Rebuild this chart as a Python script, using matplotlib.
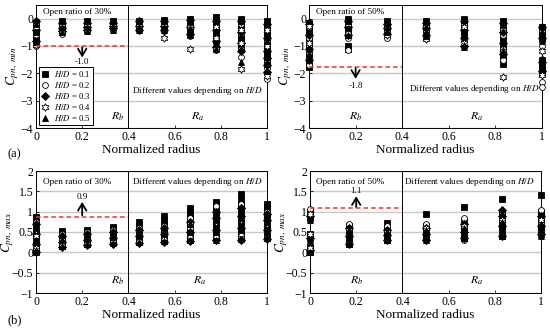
import numpy as np
import matplotlib
matplotlib.use("Agg")
import matplotlib.pyplot as plt
from matplotlib.path import Path

plt.rcParams['font.family'] = ['Liberation Serif', 'DejaVu Serif']
plt.rcParams['mathtext.fontset'] = 'stix'

# ---------------- data ----------------
hd_labels = ['0.1', '0.2', '0.3', '0.4', '0.5']
radius_30 = [0.0, 0.111, 0.222, 0.333, 0.444, 0.556, 0.667, 0.778, 0.889, 1.0]
radius_50 = [0.0, 0.167, 0.333, 0.5, 0.667, 0.833, 1.0]

# Cpn,min  open ratio 30%
cmin30_hd01 = [[-0.15, -0.3, -0.45, -0.6, -0.7], [-0.1, -0.2, -0.3, -0.4], [-0.1, -0.2, -0.3, -0.35],
               [-0.1, -0.2, -0.3], [-0.1, -0.2, -0.3], [-0.05, -0.15, -0.25, -0.3],
               [0.0, -0.1, -0.2, -0.35, -0.5], [0.05, -0.05, -0.15, -0.3, -0.4, -0.5, -0.7],
               [0.0, -0.1, -0.2, -0.3, -0.4, -0.55, -0.7, -0.85, -1.0],
               [-0.1, -0.25, -0.4, -0.5, -0.65, -0.8, -0.9, -1.0, -1.1, -1.2, -1.3, -1.45, -1.6]]
cmin30_hd02 = [[-0.2, -0.6, -0.9, -1.0], [-0.2, -0.4, -0.55], [-0.2, -0.35, -0.45], [-0.15, -0.3, -0.4],
               [-0.15, -0.3, -0.4], [-0.1, -0.3, -0.45], [-0.1, -0.4, -0.65],
               [-0.2, -0.5, -0.9, -1.15], [-0.2, -0.6, -1.1, -1.4],
               [-0.3, -0.8, -1.5, -1.8, -2.0, -2.2]]
cmin30_hd03 = [[-0.1, -0.4, -0.8], [-0.15, -0.35, -0.45], [-0.15, -0.3, -0.4], [-0.15, -0.25, -0.35],
               [-0.1, -0.25, -0.4], [-0.1, -0.25, -0.4], [-0.05, -0.3, -0.55],
               [-0.1, -0.4, -0.8, -1.05], [-0.1, -0.5, -0.9, -1.2],
               [-0.2, -0.7, -1.2, -1.45, -1.7, -1.95]]
cmin30_hd04 = [[-0.3, -0.6, -0.95], [-0.2, -0.45], [-0.2, -0.4], [-0.2, -0.35],
               [-0.2, -0.35], [-0.2, -0.7], [-0.3, -1.1],
               [-0.3, -0.7, -1.1], [-0.4, -0.9, -1.85],
               [-0.4, -1.0, -2.1]]
cmin30_hd05 = [[-0.2, -0.5, -0.85], [-0.1, -0.3, -0.5], [-0.1, -0.3, -0.45], [-0.1, -0.25, -0.4],
               [-0.1, -0.3, -0.4], [-0.1, -0.3, -0.4], [-0.1, -0.35, -0.6],
               [-0.1, -0.45, -0.9, -1.1], [-0.1, -0.6, -1.1, -1.6],
               [-0.2, -0.8, -1.4, -1.65, -1.9]]

# Cpn,min  open ratio 50%
cmin50_hd01 = [[-0.15, -0.3, -0.45, -0.6, -0.8, -1.0, -1.2, -1.4, -1.6, -1.75],
               [0.0, -0.1, -0.2, -0.3, -0.4, -0.5, -0.6, -1.0, -1.1],
               [-0.1, -0.2, -0.3, -0.45], [-0.1, -0.2, -0.3, -0.4], [0.0, -0.1, -0.2, -0.3, -0.45, -0.6],
               [-0.1, -0.2, -0.3, -0.45, -0.6, -0.8, -1.0, -1.2, -1.4, -1.65],
               [-0.3, -0.45, -0.6, -0.75, -1.5, -1.6, -1.7, -1.85, -2.0]]
cmin50_hd02 = [[-0.3, -0.7, -1.0, -1.4, -1.7], [-0.2, -0.45, -0.7, -1.15],
               [-0.15, -0.4, -0.7], [-0.2, -0.4, -0.7], [-0.2, -0.5, -0.8],
               [-0.2, -0.6, -1.1, -1.5], [-0.4, -1.0, -1.9, -2.3, -2.5]]
cmin50_hd03 = [[-0.2, -0.6, -1.1, -1.5], [-0.1, -0.3, -0.6],
               [-0.2, -0.35, -0.55], [-0.15, -0.35, -0.6], [-0.1, -0.4, -0.7, -1.0],
               [-0.15, -0.5, -0.9, -1.3], [-0.3, -0.7, -1.6, -1.9]]
cmin50_hd04 = [[-0.25, -0.9, -1.3], [-0.2, -0.5],
               [-0.3, -0.6], [-0.3, -0.75], [-0.3, -0.9],
               [-0.4, -1.2, -2.15], [-0.5, -1.2, -2.05]]
cmin50_hd05 = [[-0.1, -0.5, -1.3], [-0.1, -0.35, -0.6],
               [-0.15, -0.3, -0.5], [-0.1, -0.3, -0.65], [-0.05, -0.45, -0.95, -1.05],
               [-0.1, -0.45, -0.8, -1.2], [-0.25, -0.5, -0.8, -1.45, -1.8]]

# Cpn,max  open ratio 30%
cmax30_hd01 = [[0.0, 0.1, 0.2, 0.35, 0.5, 0.6, 0.75, 0.87], [0.15, 0.25, 0.35, 0.45, 0.52],
               [0.2, 0.3, 0.4, 0.5, 0.55], [0.25, 0.35, 0.45, 0.55, 0.63],
               [0.25, 0.35, 0.45, 0.55, 0.65, 0.75], [0.3, 0.4, 0.5, 0.6, 0.7, 0.8, 0.9],
               [0.3, 0.4, 0.55, 0.65, 0.8, 0.9, 1.0, 1.08],
               [0.35, 0.45, 0.6, 0.7, 0.9, 1.0, 1.1, 1.18, 1.25],
               [0.35, 0.45, 0.55, 0.7, 0.8, 1.0, 1.1, 1.2, 1.3, 1.43],
               [0.35, 0.45, 0.6, 0.7, 0.85, 0.95, 1.05, 1.12, 1.18]]
cmax30_hd02 = [[0.05, 0.25, 0.5, 0.75], [0.15, 0.3, 0.45], [0.2, 0.35, 0.5],
               [0.25, 0.4, 0.55], [0.25, 0.45, 0.6], [0.3, 0.5, 0.65],
               [0.35, 0.6, 0.85], [0.4, 0.8, 1.15], [0.4, 0.9, 1.2],
               [0.4, 0.75, 1.0]]
cmax30_hd03 = [[0.0, 0.2, 0.45, 0.7], [0.12, 0.25, 0.4], [0.17, 0.3, 0.45],
               [0.2, 0.35, 0.5], [0.22, 0.4, 0.55], [0.25, 0.45, 0.6],
               [0.28, 0.5, 0.75], [0.3, 0.55, 0.85, 1.0], [0.3, 0.6, 0.9, 1.1],
               [0.32, 0.55, 0.8, 0.95]]
cmax30_hd04 = [[0.1, 0.4, 0.55], [0.2, 0.35], [0.25, 0.4],
               [0.3, 0.45], [0.3, 0.5], [0.35, 0.55],
               [0.4, 0.7], [0.4, 0.75], [0.45, 0.8],
               [0.45, 0.7]]
cmax30_hd05 = [[0.05, 0.3, 0.6], [0.15, 0.3, 0.42], [0.2, 0.32, 0.45],
               [0.22, 0.38, 0.5], [0.25, 0.4, 0.55], [0.27, 0.45, 0.6],
               [0.3, 0.5, 0.7], [0.3, 0.5, 0.8], [0.32, 0.55, 0.85],
               [0.35, 0.5, 0.75]]

# Cpn,max  open ratio 50%
cmax50_hd01 = [[0.0, 0.06, 0.12, 0.35, 0.45, 0.85, 0.95, 1.0], [0.2, 0.3, 0.4, 0.5, 0.6, 0.65],
               [0.3, 0.4, 0.5, 0.6, 0.72], [0.35, 0.45, 0.55, 0.65, 0.95],
               [0.35, 0.45, 0.55, 0.65, 0.75, 1.12], [0.4, 0.5, 0.6, 0.7, 0.85, 0.95, 1.0, 1.32],
               [0.45, 0.55, 0.65, 0.75, 0.85, 0.95, 1.0, 1.42]]
cmax50_hd02 = [[0.05, 0.4, 0.9, 1.07], [0.25, 0.45, 0.7], [0.3, 0.45, 0.65],
               [0.3, 0.5, 0.7], [0.3, 0.55, 0.85], [0.4, 0.7, 1.0],
               [0.45, 0.7, 1.05]]
cmax50_hd03 = [[0.05, 0.35, 0.9], [0.2, 0.4, 0.6], [0.3, 0.42, 0.55],
               [0.3, 0.45, 0.6], [0.35, 0.5, 0.7], [0.4, 0.65, 0.9, 1.05],
               [0.45, 0.65, 0.9]]
cmax50_hd04 = [[0.1, 0.45, 0.95], [0.3, 0.55], [0.35, 0.5],
               [0.4, 0.6], [0.4, 0.65], [0.5, 0.8],
               [0.5, 0.8]]
cmax50_hd05 = [[0.0, 0.3, 0.8], [0.2, 0.35, 0.55], [0.3, 0.4, 0.5],
               [0.3, 0.45, 0.55], [0.35, 0.45, 0.6], [0.4, 0.55, 0.75],
               [0.4, 0.55, 0.7]]

envelope_min = {'30': -1.0, '50': -1.75}
envelope_max = {'30': 0.88, '50': 1.08}
envelope_label_min = {'30': '-1.0', '50': '-1.8'}
envelope_label_max = {'30': '0.9', '50': '1.1'}

# ---------------- styles ----------------
ang = np.deg2rad(90 + 30 * np.arange(12))
rad = np.where(np.arange(12) % 2 == 0, 1.0, 1 / np.sqrt(3))
hexverts = np.column_stack([rad * np.cos(ang), rad * np.sin(ang)])
hexverts = np.vstack([hexverts, hexverts[:1]])
hexagram = Path(hexverts, closed=True)

styles = [dict(marker='s', mfc='black', ms=4.0),
          dict(marker='o', mfc='white', ms=4.2),
          dict(marker='D', mfc='black', ms=3.6),
          dict(marker=hexagram, mfc='white', ms=5.4),
          dict(marker='^', mfc='black', ms=4.4)]

fig = plt.figure(figsize=(5.5, 3.29), dpi=100)
W, H = 550, 329


def make_ax(x0, x1, ytop, ybot):
    return fig.add_axes([x0 / W, 1 - ybot / H, (x1 - x0) / W, (ybot - ytop) / H])


ax_a1 = make_ax(36, 267, 5, 128)
ax_a2 = make_ax(309, 542, 5, 128)
ax_b1 = make_ax(36, 267, 171, 293)
ax_b2 = make_ax(310, 541, 171, 293)


def draw_series(ax, radius, series_list):
    for st, vals, lab in zip(styles, series_list, hd_labels):
        xs = np.concatenate([[r] * len(v) for r, v in zip(radius, vals)])
        ys = np.concatenate([np.asarray(v, float) for v in vals])
        ax.plot(xs, ys, linestyle='none', marker=st['marker'], mfc=st['mfc'],
                mec='black', mew=0.6, ms=st['ms'], label=r'$H/D$ = ' + lab,
                zorder=3, clip_on=False)


def common(ax, ylim, yticks, ylabel):
    ax.set_xlim(0, 1)
    ax.set_ylim(*ylim)
    ax.set_yticks(yticks)
    ax.set_xticks([0, 0.2, 0.4, 0.6, 0.8, 1.0])
    ax.set_xticklabels(['0', '0.2', '0.4', '0.6', '0.8', '1'])
    ax.set_yticklabels([('%g' % t).replace('-', '\u2212') for t in yticks])
    ax.yaxis.grid(True, color='#c8c8c8', lw=1.0, zorder=0)
    ax.set_axisbelow(True)
    ax.tick_params(direction='in', length=2, labelsize=8.5, pad=2, width=0.6)
    for s in ax.spines.values():
        s.set_linewidth(0.7)
        s.set_zorder(2.5)
    ax.axvline(0.4, color='black', lw=0.7, zorder=2)
    ax.set_xlabel('Normalized radius', fontsize=9.5, labelpad=1)
    ax.set_ylabel(ylabel, fontsize=9.5, labelpad=0)


draw_series(ax_a1, radius_30, [cmin30_hd01, cmin30_hd02, cmin30_hd03, cmin30_hd04, cmin30_hd05])
draw_series(ax_a2, radius_50, [cmin50_hd01, cmin50_hd02, cmin50_hd03, cmin50_hd04, cmin50_hd05])
draw_series(ax_b1, radius_30, [cmax30_hd01, cmax30_hd02, cmax30_hd03, cmax30_hd04, cmax30_hd05])
draw_series(ax_b2, radius_50, [cmax50_hd01, cmax50_hd02, cmax50_hd03, cmax50_hd04, cmax50_hd05])

ylab_min = r'$C_{pn,\ min}$'
ylab_max = r'$C_{pn,\ max}$'
for ax in (ax_a1, ax_a2):
    common(ax, (-4, 0.5), [-4, -3, -2, -1, 0], ylab_min)
for ax in (ax_b1, ax_b2):
    common(ax, (-1, 2), [-1, -0.5, 0, 0.5, 1, 1.5, 2], ylab_max)
ax_b1.yaxis.set_label_coords(-0.085, 0.5)
ax_b2.yaxis.set_label_coords(-0.085, 0.5)

txt = dict(fontsize=6.6, ha='center', va='center', zorder=6)
arrow = dict(arrowstyle='->,head_length=0.5,head_width=0.3', lw=1.3, color='black',
             shrinkA=0, shrinkB=0)
red = '#ee3333'
dash = (0, (3, 2))

# top-left
ax_a1.text(0.18, 0.24, 'Open ratio of 30%', **txt)
ax_a1.hlines(envelope_min['30'], 0, 0.4, colors=red, linestyles=dash, lw=1.1, zorder=4)
ax_a1.annotate('', xy=(0.2, -1.42), xytext=(0.2, envelope_min['30'] - 0.05), arrowprops=arrow)
ax_a1.text(0.2, -1.6, envelope_label_min['30'], **txt)
ax_a1.text(0.70, -2.63, r'Different values depending on $H/D$', **txt)
ax_a1.text(0.355, -3.6, r'$R_b$', fontsize=8.5, ha='center', va='center')
ax_a1.text(0.70, -3.6, r'$R_a$', fontsize=8.5, ha='center', va='center')
leg = ax_a1.legend(loc='lower left', bbox_to_anchor=(0.012, 0.022), borderaxespad=0,
                   fontsize=6.2, handlelength=1.0, handletextpad=0.5, labelspacing=0.12,
                   borderpad=0.25, fancybox=False, edgecolor='black', framealpha=1,
                   markerscale=1.0)
leg.get_frame().set_linewidth(0.7)

# top-right
ax_a2.text(0.176, 0.24, 'Open ratio of 50%', **txt)
ax_a2.hlines(envelope_min['50'], 0, 0.4, colors=red, linestyles=dash, lw=1.1, zorder=4)
ax_a2.annotate('', xy=(0.2, -2.2), xytext=(0.2, envelope_min['50'] - 0.05), arrowprops=arrow)
ax_a2.text(0.2, -2.45, envelope_label_min['50'], **txt)
ax_a2.text(0.71, -2.56, r'Different values depending on $H/D$', **txt)
ax_a2.text(0.2, -3.6, r'$R_b$', fontsize=8.5, ha='center', va='center')
ax_a2.text(0.72, -3.6, r'$R_a$', fontsize=8.5, ha='center', va='center')

# bottom-left
ax_b1.text(0.18, 1.73, 'Open ratio of 30%', **txt)
ax_b1.hlines(envelope_max['30'], 0, 0.4, colors=red, linestyles=dash, lw=1.1, zorder=4)
ax_b1.annotate('', xy=(0.2, 1.24), xytext=(0.2, envelope_max['30'] + 0.03), arrowprops=arrow)
ax_b1.text(0.2, 1.36, envelope_label_max['30'], **txt)
ax_b1.text(0.70, 1.72, r'Different values depending on $H/D$', **txt)
ax_b1.text(0.355, -0.71, r'$R_b$', fontsize=8.5, ha='center', va='center')
ax_b1.text(0.71, -0.71, r'$R_a$', fontsize=8.5, ha='center', va='center')

# bottom-right
ax_b2.text(0.176, 1.73, 'Open ratio of 50%', **txt)
ax_b2.hlines(envelope_max['50'], 0, 0.4, colors=red, linestyles=dash, lw=1.1, zorder=4)
ax_b2.annotate('', xy=(0.2, 1.38), xytext=(0.2, envelope_max['50'] + 0.03), arrowprops=arrow)
ax_b2.text(0.2, 1.52, envelope_label_max['50'], **txt)
ax_b2.text(0.69, 1.72, r'Different values depending on $H/D$', **txt)
ax_b2.text(0.2, -0.71, r'$R_b$', fontsize=8.5, ha='center', va='center')
ax_b2.text(0.72, -0.71, r'$R_a$', fontsize=8.5, ha='center', va='center')

fig.text(8 / W, 1 - 154 / H, '(a)', fontsize=9, ha='left', va='center')
fig.text(8 / W, 1 - 320 / H, '(b)', fontsize=9, ha='left', va='center')

fig.savefig('out.png', dpi=100)
